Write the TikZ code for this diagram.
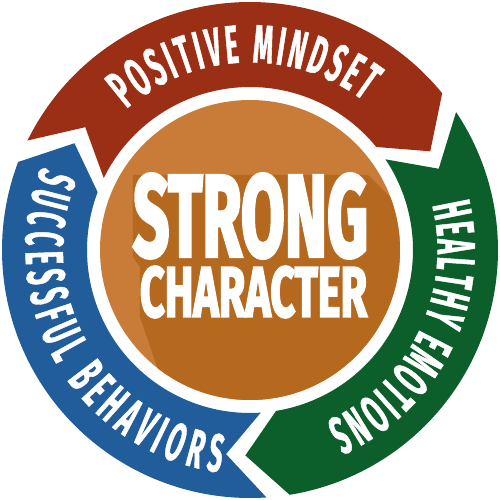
\documentclass[tikz,border=0pt]{standalone}
\usepackage{fontspec}
\usetikzlibrary{decorations.text}
\newfontfamily\ringfont{Fira Sans}[BoldFeatures={FakeStretch=0.47,FakeBold=0.8}]
\newfontfamily\centerfont{Fira Sans}[BoldFeatures={FakeBold=3.5}]
\definecolor{segred}{HTML}{9B2F15}
\definecolor{seggreen}{HTML}{0C5F2B}
\definecolor{segblue}{HTML}{215D9A}
\definecolor{orlight}{HTML}{C97C37}
\definecolor{ordark}{HTML}{B5691E}
\newcommand\ringtext{\color{white}\ringfont\bfseries\fontsize{54}{60}\selectfont}
\def\rOut{248}
\def\rIn{163}
\def\rMid{205.5}
\def\gapA{2.7}
\def\tipA{10.5}
\newcommand\ringseg[3]{%
  \fill[#1] ({#2-\gapA}:\rOut) arc[start angle={#2-\gapA}, end angle={#3+\gapA}, radius=\rOut]
    -- ({#3+\gapA-\tipA}:\rMid) -- ({#3+\gapA}:\rIn)
    arc[start angle={#3+\gapA}, end angle={#2-\gapA}, radius=\rIn]
    -- ({#2-\gapA-\tipA}:\rMid) -- cycle;}
\begin{document}
\begin{tikzpicture}[x=1pt,y=1pt,
  centertext/.style={inner sep=0pt, text=white, font=\centerfont\bfseries},
  ringlabel/.style={decorate, decoration={text along path, text={|\ringtext|#1},
     text align=fit to path, raise=-18.5pt}}]
\useasboundingbox (-250,-250) rectangle (250,250);
% ring segments
\ringseg{segred}{156.5}{36.5}
\ringseg{seggreen}{36.5}{-83.5}
\ringseg{segblue}{-83.5}{-203.5}
% centre disc with long shadow
\fill[orlight] (0,0) circle[radius=150];
\begin{scope}
  \clip (0,0) circle[radius=150];
  \fill[ordark] (-117,75) -- (118,75) -- (418,-225) -- (300,-400) -- (-40,-400)
    -- (-85,-140) -- (-110,-67) -- (-110,-17) -- (-117,-7) -- cycle;
\end{scope}
\node[centertext] (strong) at (0.5,34) {\resizebox{235pt}{82pt}{STRONG}};
\node[centertext] (character) at (3.5,-42) {\resizebox{227pt}{50pt}{CHARACTER}};
% ring labels
\path[ringlabel={POSITIVE MINDSET}] (131:206) arc[start angle=131, end angle=53, radius=206];
\path[ringlabel={HEALTHY EMOTIONS}] (13.6:206) arc[start angle=13.6, end angle=-66, radius=206];
\path[ringlabel={SUCCESSFUL BEHAVIORS}] (158:206) arc[start angle=158, end angle=262.5, radius=206];
\end{tikzpicture}
\end{document}
